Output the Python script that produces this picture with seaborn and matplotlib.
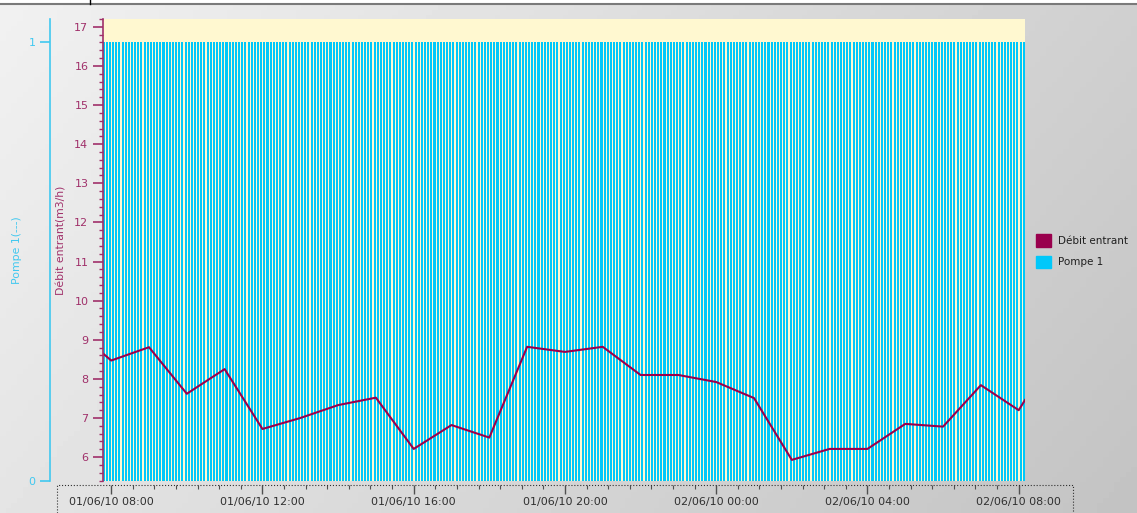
import numpy as np
import pandas as pd
import matplotlib
matplotlib.use('Agg')
import matplotlib.pyplot as plt
import matplotlib.dates as mdates
from matplotlib.patches import Patch, Rectangle
from matplotlib.lines import Line2D
import seaborn as sns

# Débit entrant (m3/h), relevés horaires
debit_heures = ['2010-06-01 07:47', '2010-06-01 08:00', '2010-06-01 09:00', '2010-06-01 10:00',
                '2010-06-01 11:00', '2010-06-01 12:00', '2010-06-01 13:00', '2010-06-01 14:00',
                '2010-06-01 15:00', '2010-06-01 16:00', '2010-06-01 17:00', '2010-06-01 18:00',
                '2010-06-01 19:00', '2010-06-01 20:00', '2010-06-01 21:00', '2010-06-01 22:00',
                '2010-06-01 23:00', '2010-06-02 00:00', '2010-06-02 01:00', '2010-06-02 02:00',
                '2010-06-02 03:00', '2010-06-02 04:00', '2010-06-02 05:00', '2010-06-02 06:00',
                '2010-06-02 07:00', '2010-06-02 08:00', '2010-06-02 08:10']
debit_valeurs = [8.65, 8.47, 8.81, 7.62, 8.25, 6.72, 7.00, 7.33,
                 7.52, 6.21, 6.82, 6.50, 8.82, 8.69, 8.82, 8.10,
                 8.10, 7.92, 7.51, 5.93, 6.21, 6.21, 6.85, 6.78,
                 7.84, 7.20, 7.46]

# Pompe 1 : état marche/arrêt, échantillonné toutes les 5 min (toujours en marche)
pompe_heures = pd.date_range('2010-06-01 07:48', '2010-06-02 08:08', freq='5min')
pompe_1 = [1] * len(pompe_heures)

x_min = '2010-06-01 07:47'
x_max = '2010-06-02 08:10'

magenta = '#99004D'
magenta_axe = '#A0306A'
cyan = '#00C8FA'
cyan_axe = '#40C8F0'

W, H = 1137, 513
fig = plt.figure(figsize=(W / 100, H / 100), dpi=100)

# fond dégradé gris
xx, yy = np.meshgrid(np.linspace(0, 1, 200), np.linspace(0, 1, 100))
grad = 0.945 - 0.13 * xx - 0.05 * yy
bg = fig.add_axes([0, 0, 1, 1], zorder=-10)
bg.imshow(grad, cmap='gray', vmin=0, vmax=1, aspect='auto', extent=[0, 1, 0, 1])
bg.axis('off')
fig.add_artist(Rectangle((0, 1 - 3 / H), 1, 3 / H, transform=fig.transFigure,
                         color='white', zorder=-5))
fig.add_artist(Line2D([0, 1], [1 - 4 / H, 1 - 4 / H], transform=fig.transFigure,
                      color='#7a7a7a', lw=1.5))
fig.add_artist(Line2D([90 / W, 90 / W], [1, 1 - 4 / H], transform=fig.transFigure,
                      color='black', lw=1))
fig.add_artist(Rectangle((57 / W, -0.05), (1073 - 57) / W, 0.05 + 28 / H,
                         transform=fig.transFigure, fill=False, ls=':', lw=0.8,
                         ec='#303030'))

ax_p = fig.add_axes([103 / W, 32 / H, 922 / W, 462 / H])
ax_p.set_facecolor('#FFF8D0')

x_pompe = mdates.date2num(pompe_heures)
sns.barplot(x=x_pompe, y=pompe_1, native_scale=True, width=0.65, color=cyan,
            saturation=1, errorbar=None, linewidth=0, ax=ax_p)
ax_p.axhline(0, color='#2E6B2E', ls=':', lw=0.8)

ax_p.set_ylim(0, 1.052)
ax_p.set_xlim(mdates.date2num(pd.Timestamp(x_min)), mdates.date2num(pd.Timestamp(x_max)))

ax_d = ax_p.twinx()
x_debit = mdates.date2num(pd.to_datetime(debit_heures))
sns.lineplot(x=x_debit, y=debit_valeurs, color=magenta, lw=1.5, ax=ax_d)
ax_d.set_ylim(5.39, 17.2)
ax_d.set_xlim(mdates.date2num(pd.Timestamp(x_min)), mdates.date2num(pd.Timestamp(x_max)))

# axe Débit (à gauche, magenta)
ax_d.yaxis.tick_left()
ax_d.yaxis.set_label_position('left')
for s in ['right', 'top', 'bottom']:
    ax_d.spines[s].set_visible(False)
ax_d.spines['left'].set_visible(True)
ax_d.spines['left'].set_color(magenta_axe)
ax_d.spines['left'].set_linewidth(1.2)
ax_d.set_yticks(range(6, 18))
ax_d.yaxis.set_minor_locator(matplotlib.ticker.MultipleLocator(0.2))
ax_d.tick_params(axis='y', which='major', length=7, width=1.2, color=magenta_axe,
                 labelcolor=magenta_axe, labelsize=8, pad=3.5)
ax_d.tick_params(axis='y', which='minor', length=3, width=1, color=magenta_axe)
ax_d.set_ylabel('Débit entrant(m3/h)', color=magenta_axe, fontsize=7.8)
ax_d.yaxis.set_label_coords((66 - 103) / 922, 0.52)
ax_d.set_xlabel('')

# axe Pompe (décalé à gauche, cyan)
for s in ['right', 'top']:
    ax_p.spines[s].set_visible(False)
ax_p.spines['left'].set_position(('outward', 53 * 0.72))
ax_p.spines['left'].set_color(cyan_axe)
ax_p.spines['left'].set_linewidth(1.2)
ax_p.set_yticks([0, 1])
ax_p.tick_params(axis='y', length=7, width=1.2, color=cyan_axe, labelcolor=cyan_axe,
                 labelsize=8, pad=3.5)
ax_p.set_ylabel('Pompe 1(---)', color=cyan_axe, fontsize=7.8)
ax_p.yaxis.set_label_coords((22 - 103) / 922, 0.5)

# axe du temps
ax_p.spines['bottom'].set_position(('outward', 4 * 0.72))
ax_p.spines['bottom'].set_visible(False)
ax_p.xaxis.set_major_locator(matplotlib.ticker.MultipleLocator(1 / 6))
ax_p.xaxis.set_minor_locator(matplotlib.ticker.MultipleLocator(1 / 42))
ax_p.xaxis.set_major_formatter(mdates.DateFormatter('%d/%m/%y %H:%M'))
ax_p.tick_params(axis='x', which='major', length=6.5, width=1, color='#505050',
                 labelcolor='#303030', labelsize=8, pad=2)
ax_p.tick_params(axis='x', which='minor', length=3, width=0.8, color='#505050')
ax_p.set_xlabel('')

fig.legend(handles=[Patch(color=magenta, label='Débit entrant'),
                    Patch(color=cyan, label='Pompe 1')],
           loc='upper left', bbox_to_anchor=(1027 / W, 1 - 225 / H), frameon=False,
           handlelength=1.45, handleheight=1.45, handletextpad=0.6,
           labelspacing=0.85, fontsize=7.5, labelcolor='#202020')

fig.savefig('out.png', dpi=100)
